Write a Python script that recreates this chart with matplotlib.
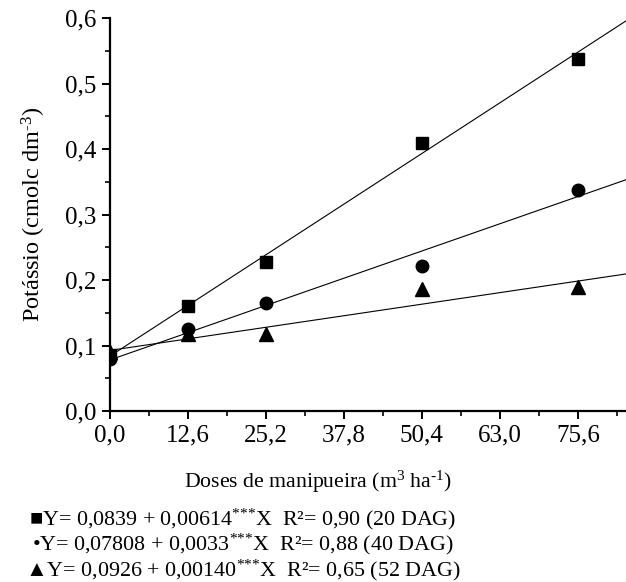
import numpy as np
import matplotlib
matplotlib.use('Agg')
import matplotlib.pyplot as plt
from matplotlib.ticker import MultipleLocator, FuncFormatter

plt.rcParams['font.family'] = ['Liberation Serif', 'DejaVu Sans']
plt.rcParams['mathtext.fontset'] = 'custom'
plt.rcParams['mathtext.rm'] = 'Liberation Serif'
plt.rcParams['mathtext.it'] = 'Liberation Serif:italic'

# doses de manipueira (m3/ha)
doses = [0.0, 12.6, 25.2, 50.4, 75.6]
# potassio observado por epoca
k_20dag = [0.085, 0.160, 0.228, 0.410, 0.538]
k_40dag = [0.079, 0.125, 0.165, 0.222, 0.338]
k_52dag = [0.090, 0.118, 0.118, 0.187, 0.190]
# coeficientes das regressoes (a, b)
fit_20 = (0.0839, 0.00614)
fit_40 = (0.07808, 0.0033)
fit_52 = (0.0926, 0.00140)

eq_lines = [
    "\u25a0Y= 0,0839 + 0,00614$^{\\text{***}}$X  R\u00b2= 0,90 (20 DAG)",
    "\u2022Y= 0,07808 + 0,0033$^{\\text{***}}$X  R\u00b2= 0,88 (40 DAG)",
    "\u25b2Y= 0,0926 + 0,00140$^{\\text{***}}$X  R\u00b2= 0,65 (52 DAG)",
]

fig = plt.figure(figsize=(6.26, 5.82), dpi=100)
ax = fig.add_axes([0.1757, 0.2938, 0.872, 0.675])

xmax = 88.2
xx = np.array([0.0, xmax])
for (a, b), y, mk, ms in [(fit_20, k_20dag, 's', 8),
                          (fit_40, k_40dag, 'o', 9),
                          (fit_52, k_52dag, '^', 9.5)]:
    ax.plot(xx, a + b * xx, color='black', lw=0.8)
    ax.plot(doses, y, ls='none', marker=mk, ms=ms, color='black')

ax.set_xlim(0, xmax)
ax.set_ylim(0, 0.6)
ax.xaxis.set_major_locator(MultipleLocator(12.6))
ax.xaxis.set_minor_locator(MultipleLocator(6.3))
ax.yaxis.set_major_locator(MultipleLocator(0.1))
ax.yaxis.set_minor_locator(MultipleLocator(0.05))
ax.xaxis.set_major_formatter(
    FuncFormatter(lambda v, p: f"{v:.1f}".replace('.', ',') if v < 80 else ""))
ax.yaxis.set_major_formatter(FuncFormatter(lambda v, p: f"{v:.1f}".replace('.', ',')))

for s in ['top', 'right']:
    ax.spines[s].set_visible(False)
for s in ['left', 'bottom']:
    ax.spines[s].set_linewidth(1.6)
ax.tick_params(which='major', direction='out', length=6, width=1.4,
               labelsize=18, pad=4)
ax.tick_params(which='minor', direction='out', length=3.5, width=1.2)

ax.set_ylabel("Potássio (cmolc dm$^{\\text{-3}}$)", fontsize=17.5)
ax.yaxis.set_label_coords(-0.114, 0.5)
ax.set_xlabel("Doses de manipueira (m$^{\\text{3}}$ ha$^{\\text{-1}}$)",
              fontsize=15.7)
ax.xaxis.set_label_coords(0.381, -0.148)

for i, t in enumerate(eq_lines):
    fig.text(243 / 626, 1 - (519 + 25.5 * i) / 582, t, ha='center', va='center',
             fontsize=15.8)

fig.savefig('out.png', dpi=100, facecolor='white')
